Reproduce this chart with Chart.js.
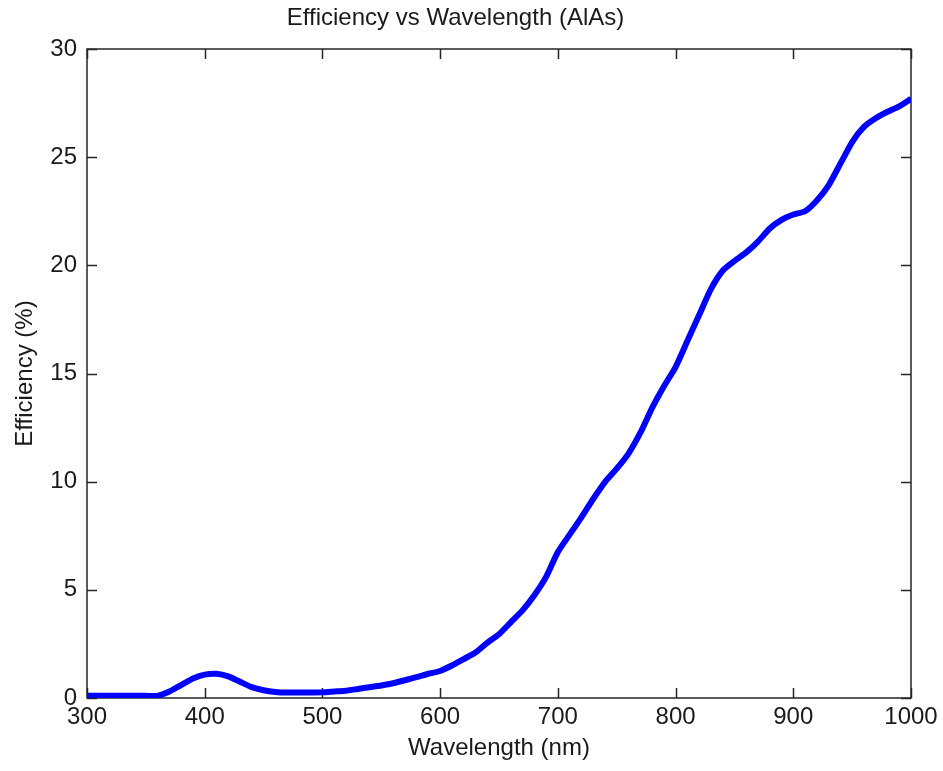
<!DOCTYPE html>
<html>
<head>
<meta charset="utf-8">
<script src="https://cdn.jsdelivr.net/npm/chart.js@4.4.1/dist/chart.umd.min.js"></script>
<style>
  body { margin: 0; background: #fff; }
  canvas { display: block; }
</style>
</head>
<body>
<canvas id="grafica" width="943" height="771"></canvas>
<script>
// datos
var wavelengths = [300,310,320,330,340,350,360,370,380,390,400,410,420,430,440,450,460,470,480,490,
  500,510,520,530,540,550,560,570,580,590,600,610,620,630,640,650,660,670,680,690,
  700,710,720,730,740,750,760,770,780,790,800,810,820,830,840,850,860,870,880,890,
  900,910,920,930,940,950,960,970,980,990,1000];
var efficiency = [0.1,0.1,0.1,0.1,0.1,0.1,0.1,0.3,0.6,0.9,1.08,1.12,1.0,0.75,0.5,0.36,0.28,0.25,0.25,0.25,
  0.26,0.3,0.34,0.42,0.5,0.58,0.68,0.82,0.96,1.12,1.25,1.5,1.8,2.1,2.55,2.95,3.5,4.05,4.75,5.6,
  6.75,7.55,8.35,9.2,9.98,10.6,11.3,12.25,13.4,14.4,15.3,16.5,17.7,18.9,19.75,20.2,20.6,21.1,21.7,22.1,
  22.35,22.5,23.0,23.7,24.7,25.7,26.4,26.8,27.1,27.35,27.7];
var xTicks = [300,400,500,600,700,800,900,1000];
var yTicks = [0,5,10,15,20,25,30];

var fuente = 'Liberation Sans, Arial, Helvetica, sans-serif';
var colorTexto = '#1a1a1a';

// marco tipo matlab con marcas hacia adentro
var marco = {
  id: 'marco',
  beforeDatasetsDraw: function(chart){
    var ctx = chart.ctx, a = chart.chartArea;
    var sx = chart.scales.x, sy = chart.scales.y;
    var tl = 10;
    ctx.save();
    ctx.strokeStyle = '#262626';
    ctx.lineWidth = 1.5;
    ctx.strokeRect(a.left, a.top, a.right - a.left, a.bottom - a.top);
    ctx.beginPath();
    xTicks.forEach(function(v){
      var px = Math.round(sx.getPixelForValue(v)) + 0.5;
      ctx.moveTo(px, a.bottom); ctx.lineTo(px, a.bottom - tl);
      ctx.moveTo(px, a.top); ctx.lineTo(px, a.top + tl);
    });
    yTicks.forEach(function(v){
      var py = Math.round(sy.getPixelForValue(v)) + 0.5;
      ctx.moveTo(a.left, py); ctx.lineTo(a.left + tl, py);
      ctx.moveTo(a.right, py); ctx.lineTo(a.right - tl, py);
    });
    ctx.stroke();
    ctx.restore();
  }
};

var ctx = document.getElementById('grafica').getContext('2d');
var chart = new Chart(ctx, {
  type: 'line',
  data: {
    datasets: [{
      data: wavelengths.map(function(w, i){ return {x: w, y: efficiency[i]}; }),
      borderColor: '#0000ff',
      borderWidth: 6,
      pointRadius: 0,
      tension: 0.2,
      fill: false
    }]
  },
  options: {
    responsive: false,
    animation: false,
    layout: { padding: { left: 0, right: 32, top: 0, bottom: 0 } },
    plugins: {
      legend: { display: false },
      tooltip: { enabled: false },
      title: {
        display: true,
        text: 'Efficiency vs Wavelength (AlAs)',
        color: colorTexto,
        font: { family: fuente, size: 24, weight: 'normal' },
        padding: { top: 4, bottom: 16.2 }
      }
    },
    scales: {
      x: {
        type: 'linear',
        min: 300, max: 1000,
        afterBuildTicks: function(s){ s.ticks = xTicks.map(function(v){ return {value: v}; }); },
        afterFit: function(s){ s.height = 73; },
        grid: { display: false, drawTicks: false },
        border: { display: false },
        ticks: {
          color: colorTexto, padding: 5, maxRotation: 0,
          font: { family: fuente, size: 24 },
          callback: function(v){ return String(v); }
        },
        title: {
          display: true, text: 'Wavelength (nm)', color: colorTexto,
          font: { family: fuente, size: 24 }, padding: { top: 0, bottom: 8.6 }
        }
      },
      y: {
        min: 0, max: 30,
        afterBuildTicks: function(s){ s.ticks = yTicks.map(function(v){ return {value: v}; }); },
        afterFit: function(s){ s.width = 87; },
        grid: { display: false, drawTicks: false },
        border: { display: false },
        ticks: {
          color: colorTexto, padding: 10,
          font: { family: fuente, size: 24 },
          callback: function(v){ return String(v); }
        },
        title: {
          display: true, text: 'Efficiency (%)', color: colorTexto,
          font: { family: fuente, size: 24 }, padding: { top: 10.6, bottom: 0 }
        }
      }
    }
  },
  plugins: [marco]
});
</script>
</body>
</html>
